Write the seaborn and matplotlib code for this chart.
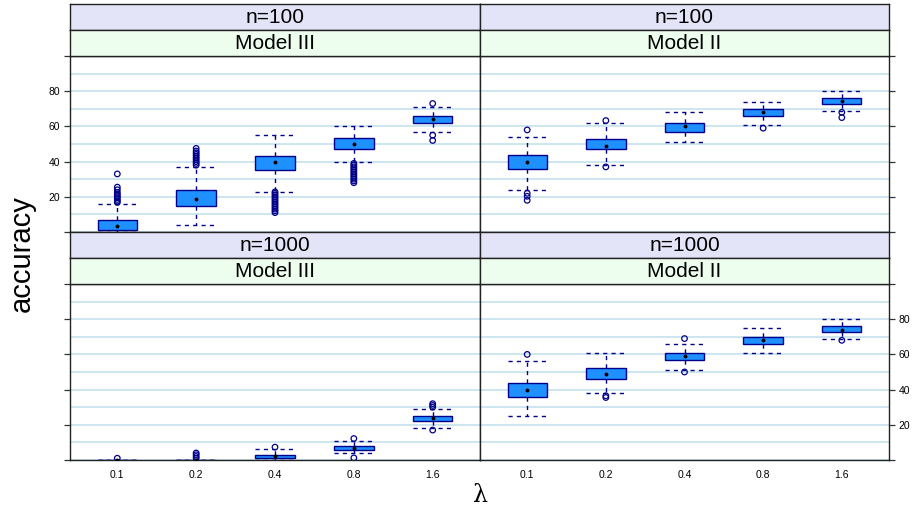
import numpy as np
import pandas as pd
import matplotlib
matplotlib.use("Agg")
import matplotlib.pyplot as plt
import seaborn as sns
from matplotlib.ticker import MultipleLocator

plt.rcParams['font.family'] = ['Liberation Sans', 'DejaVu Sans']

lams = ["0.1", "0.2", "0.4", "0.8", "1.6"]
sizes = ["n=100", "n=1000"]
models = ["Model III", "Model II"]
y_ticks = [0, 20, 40, 60, 80, 100]
y_ticklabels = ["", "20", "40", "60", "80", ""]

# five-number summaries per lambda: [lower whisker, Q1, median, Q3, upper whisker]
n100_m3 = [[0, 1, 3.3, 7, 16], [4, 15, 19, 24, 37], [23, 35, 40, 43, 55],
           [40, 47.3, 50, 53.4, 60], [57, 62, 64, 66, 71]]
n100_m2 = [[24, 36, 40, 44, 54], [38, 47, 49, 53, 62], [51, 57, 60, 62, 68],
           [61, 66, 68, 70, 74], [69, 73, 74.3, 76, 80]]
n1000_m3 = [[0, 0, 0, 0, 0], [0, 0, 0, 0, 0], [0, 1, 2.2, 3, 6],
            [4, 5.6, 7, 8.2, 11], [18, 22, 24, 25, 29]]
n1000_m2 = [[25, 36, 39.5, 44, 56], [38, 46, 49, 52, 61], [51, 57, 59, 61, 66],
            [61, 66, 68, 70, 75], [69, 73, 74, 76, 80]]

# outlying points per lambda
n100_m3_out = [[16.8, 17.5, 18.5, 19.5, 20.5, 21.5, 22.5, 24, 25.5, 33],
               [38, 39, 40, 41, 42, 43, 44, 45, 46, 47.5],
               [11, 12, 13, 14, 15, 16, 17, 18, 19, 20, 21, 22, 22.8],
               [28, 29, 30, 31, 32, 33, 34, 35, 36, 37, 38, 39],
               [73, 55, 52]]
n100_m2_out = [[58, 22, 20.3, 18], [63.3, 37], [], [59], [68, 65]]
n1000_m3_out = [[1], [1, 2, 3, 4], [7.3], [12.2, 1.2], [30, 31, 32, 17]]
n1000_m2_out = [[60], [36.5, 35.5], [69, 50], [], [68]]

panels = [("n=100", "Model III", n100_m3, n100_m3_out),
          ("n=100", "Model II", n100_m2, n100_m2_out),
          ("n=1000", "Model III", n1000_m3, n1000_m3_out),
          ("n=1000", "Model II", n1000_m2, n1000_m2_out)]

box_rows, med_rows, out_rows = [], [], []
for n, m, summ, outs in panels:
    for lam, s, o in zip(lams, summ, outs):
        for v in s:
            box_rows.append(dict(n=n, model=m, lam=lam, acc=v))
        med_rows.append(dict(n=n, model=m, lam=lam, acc=s[2]))
        for v in o:
            out_rows.append(dict(n=n, model=m, lam=lam, acc=v))
box_df = pd.DataFrame(box_rows)
med_df = pd.DataFrame(med_rows)
out_df = pd.DataFrame(out_rows)

W, H = 917, 513
fig = plt.figure(figsize=(W / 100, H / 100), dpi=100)


def rect(x0, y0, x1, y1):
    return [x0 / W, 1 - y1 / H, (x1 - x0) / W, (y1 - y0) / H]


NAVY = "#00008B"
FILL = "#1E90FF"
GRID = "#C5E2EC"
cols = [(70, 480), (480, 889)]
rows_px = [(4, 30, 56, 232), (232, 258, 284, 460)]

for idx, (n, m, summ, outs) in enumerate(panels):
    r, c = divmod(idx, 2)
    x0, x1 = cols[c]
    s1, s2, p0, p1 = rows_px[r]
    ax = fig.add_axes(rect(x0, p0, x1, p1))
    sub = box_df[(box_df.n == n) & (box_df.model == m)]
    sns.boxplot(data=sub, x="lam", y="acc", order=lams, ax=ax, whis=(0, 100),
                width=0.5, color=FILL, linecolor=NAVY, linewidth=1,
                showfliers=False, saturation=1,
                medianprops=dict(visible=False),
                whiskerprops=dict(linestyle=(0, (3, 3)), color=NAVY, linewidth=1),
                capprops=dict(linestyle=(0, (3, 3)), color=NAVY, linewidth=1),
                capwidths=0.5)
    osub = out_df[(out_df.n == n) & (out_df.model == m)]
    if len(osub):
        sns.stripplot(data=osub, x="lam", y="acc", order=lams, ax=ax, jitter=False,
                      color=NAVY, facecolors="none", edgecolor=NAVY,
                      linewidth=0.9, size=4.0, zorder=4)
    msub = med_df[(med_df.n == n) & (med_df.model == m)]
    sns.stripplot(data=msub, x="lam", y="acc", order=lams, ax=ax, jitter=False,
                  color="black", size=2.8, zorder=5)
    ax.set_xlim(-0.6, 4.6)
    ax.set_ylim(0, 100)
    ax.set_xlabel("")
    ax.set_ylabel("")
    ax.set_yticks(y_ticks)
    ax.set_yticklabels(y_ticklabels)
    ax.yaxis.set_minor_locator(MultipleLocator(10))
    ax.set_axisbelow(True)
    ax.grid(True, which="both", axis="y", color=GRID, linewidth=1.2)
    ax.grid(False, axis="x")
    ax.tick_params(axis="y", which="minor", length=0)
    ax.tick_params(axis="y", which="major", length=4.5, width=0.9, color="#333333",
                   labelsize=7.5, pad=2.5, direction="out")
    if c == 0:
        ax.yaxis.tick_left()
        ax.tick_params(axis="y", labelleft=(r == 0))
    else:
        ax.yaxis.tick_right()
        ax.tick_params(axis="y", labelright=(r == 1), labelleft=False)
    ax.tick_params(axis="x", length=0, labelsize=7.5, pad=7,
                   labelbottom=(r == 1))
    for sp in ax.spines.values():
        sp.set_color("#222222")
        sp.set_linewidth(1.0)
    # strips
    for (ya, yb, fc, txt) in [(s1, s2, "#E4E4F8", n), (s2, p0, "#EEFEEE", m)]:
        sax = fig.add_axes(rect(x0, ya, x1, yb))
        sax.set_facecolor(fc)
        sax.set_xticks([])
        sax.set_yticks([])
        for sp in sax.spines.values():
            sp.set_color("#222222")
            sp.set_linewidth(1.0)
        sax.text(0.5, 0.48, txt, ha="center", va="center", fontsize=15,
                 transform=sax.transAxes)

fig.text(22 / W, 1 - 254 / H, "accuracy", rotation=90, ha="center", va="center",
         fontsize=21)
fig.text(480 / W, 1 - 495 / H, "λ", ha="center", va="center", fontsize=17,
         family=["DejaVu Serif", "DejaVu Sans"])

fig.savefig("out.png", dpi=100)
